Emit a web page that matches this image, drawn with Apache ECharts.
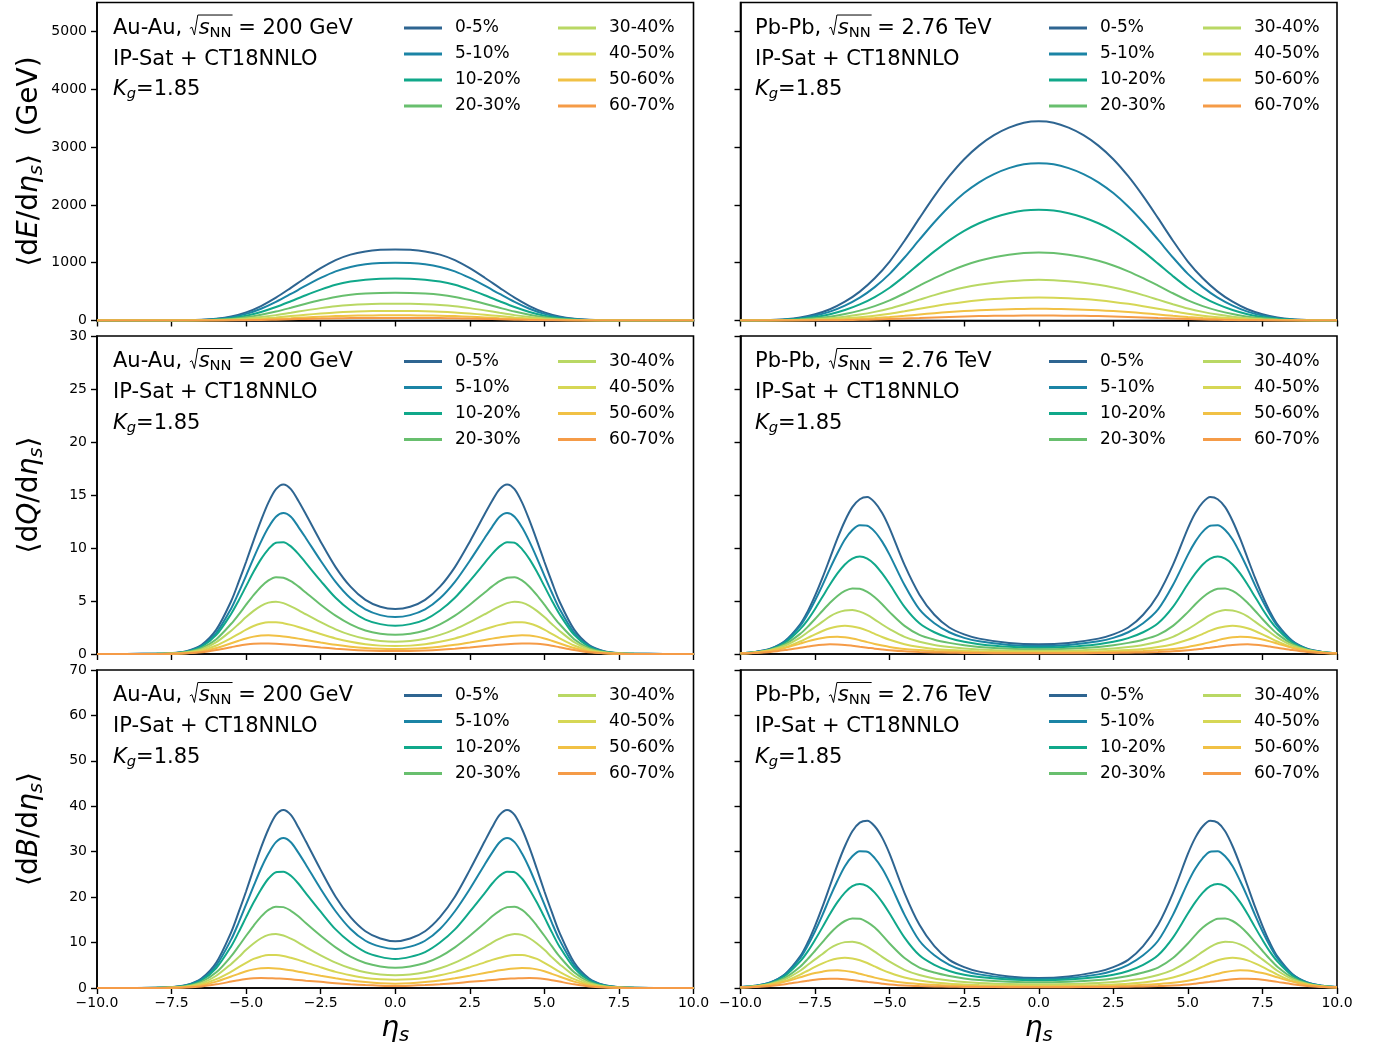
<!DOCTYPE html>
<html>
<head>
<meta charset="utf-8">
<script src="https://cdn.jsdelivr.net/npm/echarts@6/dist/echarts.min.js"></script>
<style>
  html, body { margin: 0; padding: 0; background: #ffffff; }
  #chart { width: 1383px; height: 1053px; }
</style>
</head>
<body>
<div id="chart"></div>
<script>
// Space-time rapidity samples: a regular grid for the energy panels,
// and grids that are denser around the peaks for the charge / baryon panels
const eta = [-10,-9.5,-9,-8.5,-8,-7.5,-7,-6.5,-6,-5.5,-5,-4.5,-4,-3.5,-3,-2.5,-2,-1.5,-1,-0.5,0,
             0.5,1,1.5,2,2.5,3,3.5,4,4.5,5,5.5,6,6.5,7,7.5,8,8.5,9,9.5,10];
const etaAu = [-10,-9,-8,-7.5,-7,-6.5,-6,-5.5,-5.25,-5,-4.75,-4.5,-4.25,-4,-3.75,-3.5,-3.25,-3,-2.5,-2,-1.5,-1,-0.5,0,
               0.5,1,1.5,2,2.5,3,3.25,3.5,3.75,4,4.25,4.5,4.75,5,5.25,5.5,6,6.5,7,7.5,8,9,10];
const etaPb = [-10,-9.5,-9,-8.5,-8,-7.75,-7.5,-7.25,-7,-6.75,-6.5,-6.25,-6,-5.75,-5.5,-5.25,-5,-4.5,-4,-3.5,-3,-2.5,-2,-1,0,
               1,2,2.5,3,3.5,4,4.5,5,5.25,5.5,5.75,6,6.25,6.5,6.75,7,7.25,7.5,7.75,8,8.5,9,9.5,10];

const centralities = ['0-5%','5-10%','10-20%','20-30%','30-40%','40-50%','50-60%','60-70%'];
const lineColors = ['#2e6591','#1b84a5','#10a88a','#68bf6e','#b9d864','#d6d755','#f1c145','#f59b47'];

const xTicks  = [-10,-7.5,-5,-2.5,0,2.5,5,7.5,10];
const yTicksE = [0,1000,2000,3000,4000,5000];
const yTicksQ = [0,5,10,15,20,25,30];
const yTicksB = [0,10,20,30,40,50,60,70];

// <dE/d eta_s> (GeV), Au-Au 200 GeV, one row per centrality class (on eta)
const auAuE = [
  [0,0,0,0,0,1,4,12,31,70,140,250,395,565,740,905,1045,1140,1195,1222,1230,1222,1195,1140,1045,905,740,565,395,250,140,70,31,12,4,1,0,0,0,0,0],
  [0,0,0,0,0,1,3,10,25,57,114,203,321,459,602,736,850,927,972,994,1000,994,972,927,850,736,602,459,321,203,114,57,25,10,3,1,0,0,0,0,0],
  [0,0,0,0,0,1,2,7,18,41,83,148,233,333,437,534,617,673,705,721,725,721,705,673,617,534,437,333,233,148,83,41,18,7,2,1,0,0,0,0,0],
  [0,0,0,0,0,0,2,5,12,27,55,98,154,220,289,353,408,445,466,477,480,477,466,445,408,353,289,220,154,98,55,27,12,5,2,0,0,0,0,0,0],
  [0,0,0,0,0,0,1,3,7,17,33,59,93,133,175,214,247,269,282,288,290,288,282,269,247,214,175,133,93,59,33,17,7,3,1,0,0,0,0,0,0],
  [0,0,0,0,0,0,1,2,4,9,19,34,53,76,99,121,140,153,160,164,165,164,160,153,140,121,99,76,53,34,19,9,4,2,1,0,0,0,0,0,0],
  [0,0,0,0,0,0,0,1,2,5,10,18,29,41,54,66,76,83,87,89,90,89,87,83,76,66,54,41,29,18,10,5,2,1,0,0,0,0,0,0,0],
  [0,0,0,0,0,0,0,0,1,3,5,9,15,21,27,33,39,42,44,45,45,45,44,42,39,33,27,21,15,9,5,3,1,0,0,0,0,0,0,0,0]
];

// <dE/d eta_s> (GeV), Pb-Pb 2.76 TeV (on eta)
const pbPbE = [
  [0,3,9,22,52,108,195,325,500,730,1020,1380,1770,2150,2495,2790,3025,3205,3335,3420,3445,3420,3335,3205,3025,2790,2495,2150,1770,1380,1020,730,500,325,195,108,52,22,9,3,0],
  [0,2,7,17,41,85,154,257,395,577,806,1090,1398,1699,1971,2204,2390,2532,2635,2702,2720,2702,2635,2532,2390,2204,1971,1699,1398,1090,806,577,395,257,154,85,41,17,7,2,0],
  [0,2,5,12,29,60,108,181,278,406,567,767,984,1195,1387,1551,1682,1782,1854,1902,1915,1902,1854,1782,1682,1551,1387,1195,984,767,567,406,278,181,108,60,29,12,5,2,0],
  [0,1,3,8,18,37,66,111,171,249,348,471,604,733,851,951,1032,1093,1137,1167,1176,1167,1137,1093,1032,951,851,733,604,471,348,249,171,111,66,37,18,8,3,1,0],
  [0,1,2,4,11,22,40,66,102,149,208,282,361,439,509,569,617,654,680,698,704,698,680,654,617,569,509,439,361,282,208,149,102,66,40,22,11,4,2,1,0],
  [0,0,1,3,6,12,23,38,58,84,118,159,204,248,288,322,349,370,385,395,398,395,385,370,349,322,288,248,204,159,118,84,58,38,23,12,6,3,1,0,0],
  [0,0,1,1,3,6,11,19,29,43,60,81,104,126,146,163,177,188,195,200,202,200,195,188,177,163,146,126,104,81,60,43,29,19,11,6,3,1,1,0,0],
  [0,0,0,1,1,3,5,8,12,18,26,35,44,54,62,70,76,80,83,86,86,86,83,80,76,70,62,54,44,35,26,18,12,8,5,3,1,1,0,0,0]
];

// <dQ/d eta_s>, Au-Au 200 GeV (on etaAu)
const auAuQ = [
  [0,0.01,0.03,0.08,0.27,0.85,2.3,5.0,6.8,8.7,10.7,12.6,14.3,15.55,16.0,15.55,14.45,13.2,10.6,8.2,6.35,5.1,4.45,4.24,4.45,5.1,6.35,8.2,10.6,13.2,14.45,15.55,16.0,15.55,14.3,12.6,10.7,8.7,6.8,5.0,2.3,0.85,0.27,0.08,0.03,0.01,0],
  [0,0.01,0.02,0.07,0.24,0.76,2.0,4.3,5.8,7.4,9.05,10.6,11.95,12.95,13.3,12.95,12.0,10.95,8.8,6.8,5.25,4.2,3.67,3.49,3.67,4.2,5.25,6.8,8.8,10.95,12.0,12.95,13.3,12.95,11.95,10.6,9.05,7.4,5.8,4.3,2.0,0.76,0.24,0.07,0.02,0.01,0],
  [0,0,0.02,0.06,0.22,0.68,1.8,3.8,5.05,6.4,7.75,8.95,9.9,10.5,10.55,10.15,9.45,8.6,6.9,5.3,4.1,3.25,2.82,2.67,2.82,3.25,4.1,5.3,6.9,8.6,9.45,10.15,10.55,10.5,9.9,8.95,7.75,6.4,5.05,3.8,1.8,0.68,0.22,0.06,0.02,0,0],
  [0,0,0.02,0.05,0.18,0.55,1.4,2.85,3.72,4.65,5.55,6.35,6.95,7.25,7.2,6.88,6.38,5.8,4.65,3.62,2.8,2.22,1.92,1.82,1.92,2.22,2.8,3.62,4.65,5.8,6.38,6.88,7.2,7.25,6.95,6.35,5.55,4.65,3.72,2.85,1.4,0.55,0.18,0.05,0.02,0,0],
  [0,0,0.01,0.04,0.15,0.44,1.12,2.2,2.83,3.48,4.07,4.55,4.85,4.94,4.8,4.5,4.15,3.75,3.0,2.33,1.8,1.43,1.23,1.16,1.23,1.43,1.8,2.33,3.0,3.75,4.15,4.5,4.8,4.94,4.85,4.55,4.07,3.48,2.83,2.2,1.12,0.44,0.15,0.04,0.01,0,0],
  [0,0,0.01,0.03,0.11,0.33,0.8,1.5,1.9,2.3,2.64,2.88,3.0,3.0,2.91,2.75,2.55,2.33,1.88,1.47,1.15,0.92,0.79,0.75,0.79,0.92,1.15,1.47,1.88,2.33,2.55,2.75,2.91,3.0,3.0,2.88,2.64,2.3,1.9,1.5,0.8,0.33,0.11,0.03,0.01,0,0],
  [0,0,0.01,0.02,0.08,0.24,0.56,1.01,1.25,1.47,1.64,1.74,1.76,1.73,1.66,1.56,1.45,1.33,1.09,0.87,0.69,0.56,0.49,0.47,0.49,0.56,0.69,0.87,1.09,1.33,1.45,1.56,1.66,1.73,1.76,1.74,1.64,1.47,1.25,1.01,0.56,0.24,0.08,0.02,0.01,0,0],
  [0,0,0.01,0.02,0.06,0.16,0.37,0.64,0.78,0.89,0.97,1.0,0.99,0.96,0.92,0.87,0.81,0.75,0.62,0.5,0.4,0.33,0.29,0.28,0.29,0.33,0.4,0.5,0.62,0.75,0.81,0.87,0.92,0.96,0.99,1.0,0.97,0.89,0.78,0.64,0.37,0.16,0.06,0.02,0.01,0,0]
];

// <dQ/d eta_s>, Pb-Pb 2.76 TeV (on etaPb)
const pbPbQ = [
  [0.08,0.2,0.5,1.25,2.8,4.0,5.5,7.2,9.05,10.9,12.55,13.85,14.6,14.8,14.3,13.3,11.85,8.4,5.6,3.7,2.5,1.85,1.45,1.04,0.92,1.04,1.45,1.85,2.5,3.7,5.6,8.4,11.85,13.3,14.3,14.8,14.6,13.85,12.55,10.9,9.05,7.2,5.5,4.0,2.8,1.25,0.5,0.2,0.08],
  [0.08,0.2,0.48,1.2,2.65,3.75,5.05,6.5,8.05,9.5,10.8,11.7,12.15,12.1,11.55,10.6,9.35,6.5,4.2,2.9,2.05,1.52,1.2,0.86,0.75,0.86,1.2,1.52,2.05,2.9,4.2,6.5,9.35,10.6,11.55,12.1,12.15,11.7,10.8,9.5,8.05,6.5,5.05,3.75,2.65,1.2,0.48,0.2,0.08],
  [0.07,0.17,0.42,1.08,2.35,3.2,4.25,5.4,6.55,7.6,8.45,9.0,9.2,9.0,8.45,7.6,6.6,4.45,2.9,2.05,1.5,1.15,0.93,0.68,0.6,0.68,0.93,1.15,1.5,2.05,2.9,4.45,6.6,7.6,8.45,9.0,9.2,9.0,8.45,7.6,6.55,5.4,4.25,3.2,2.35,1.08,0.42,0.17,0.07],
  [0.06,0.16,0.4,0.93,1.9,2.56,3.3,4.08,4.83,5.48,5.95,6.18,6.15,5.86,5.36,4.7,3.95,2.65,1.8,1.35,1.05,0.82,0.66,0.5,0.45,0.5,0.66,0.82,1.05,1.35,1.8,2.65,3.95,4.7,5.36,5.86,6.15,6.18,5.95,5.48,4.83,4.08,3.3,2.56,1.9,0.93,0.4,0.16,0.06],
  [0.06,0.15,0.37,0.8,1.55,2.05,2.55,3.05,3.55,3.9,4.1,4.15,4.0,3.68,3.25,2.78,2.35,1.62,1.15,0.85,0.66,0.52,0.43,0.33,0.3,0.33,0.43,0.52,0.66,0.85,1.15,1.62,2.35,2.78,3.25,3.68,4.0,4.15,4.1,3.9,3.55,3.05,2.55,2.05,1.55,0.8,0.37,0.15,0.06],
  [0.05,0.12,0.29,0.62,1.18,1.52,1.86,2.17,2.43,2.6,2.67,2.6,2.45,2.2,1.9,1.6,1.34,0.92,0.65,0.48,0.38,0.31,0.26,0.21,0.2,0.21,0.26,0.31,0.38,0.48,0.65,0.92,1.34,1.6,1.9,2.2,2.45,2.6,2.67,2.6,2.43,2.17,1.86,1.52,1.18,0.62,0.29,0.12,0.05],
  [0.06,0.14,0.3,0.59,0.98,1.19,1.37,1.5,1.6,1.63,1.57,1.46,1.3,1.12,0.95,0.8,0.67,0.48,0.37,0.29,0.23,0.19,0.16,0.13,0.12,0.13,0.16,0.19,0.23,0.29,0.37,0.48,0.67,0.8,0.95,1.12,1.3,1.46,1.57,1.63,1.6,1.5,1.37,1.19,0.98,0.59,0.3,0.14,0.06],
  [0.04,0.09,0.19,0.37,0.6,0.7,0.8,0.87,0.91,0.9,0.86,0.78,0.69,0.6,0.5,0.42,0.35,0.25,0.19,0.15,0.12,0.1,0.09,0.075,0.07,0.075,0.09,0.1,0.12,0.15,0.19,0.25,0.35,0.42,0.5,0.6,0.69,0.78,0.86,0.9,0.91,0.87,0.8,0.7,0.6,0.37,0.19,0.09,0.04]
];

// <dB/d eta_s>, Au-Au 200 GeV (on etaAu)
const auAuB = [
  [0,0.02,0.07,0.2,0.66,2.1,5.6,12.3,16.7,21.3,26.2,30.9,35.0,38.1,39.2,38.1,35.4,32.3,26.0,20.1,15.6,12.5,10.9,10.3,10.9,12.5,15.6,20.1,26.0,32.3,35.4,38.1,39.2,38.1,35.0,30.9,26.2,21.3,16.7,12.3,5.6,2.1,0.66,0.2,0.07,0.02,0],
  [0,0.02,0.05,0.17,0.6,1.9,5.0,10.7,14.4,18.4,22.4,26.3,29.6,32.1,33.0,32.1,29.8,27.2,21.8,16.9,13.0,10.4,9.1,8.6,9.1,10.4,13.0,16.9,21.8,27.2,29.8,32.1,33.0,32.1,29.6,26.3,22.4,18.4,14.4,10.7,5.0,1.9,0.6,0.17,0.05,0.02,0],
  [0,0,0.05,0.15,0.53,1.65,4.4,9.2,12.3,15.6,18.8,21.7,24.1,25.5,25.6,24.7,23.0,20.9,16.8,12.9,10.0,7.9,6.85,6.4,6.85,7.9,10.0,12.9,16.8,20.9,23.0,24.7,25.6,25.5,24.1,21.7,18.8,15.6,12.3,9.2,4.4,1.65,0.53,0.15,0.05,0,0],
  [0,0,0.05,0.12,0.44,1.36,3.45,7.0,9.2,11.5,13.7,15.7,17.2,17.9,17.8,17.0,15.8,14.3,11.5,8.95,6.9,5.5,4.75,4.45,4.75,5.5,6.9,8.95,11.5,14.3,15.8,17.0,17.8,17.9,17.2,15.7,13.7,11.5,9.2,7.0,3.45,1.36,0.44,0.12,0.05,0,0],
  [0,0,0.02,0.1,0.36,1.06,2.7,5.3,6.8,8.4,9.8,10.95,11.7,11.9,11.55,10.85,10.0,9.0,7.2,5.6,4.35,3.45,2.96,2.8,2.96,3.45,4.35,5.6,7.2,9.0,10.0,10.85,11.55,11.9,11.7,10.95,9.8,8.4,6.8,5.3,2.7,1.06,0.36,0.1,0.02,0,0],
  [0,0,0.02,0.07,0.27,0.8,1.94,3.6,4.6,5.55,6.4,6.95,7.25,7.25,7.05,6.65,6.2,5.65,4.55,3.55,2.8,2.2,1.9,1.8,1.9,2.2,2.8,3.55,4.55,5.65,6.2,6.65,7.05,7.25,7.25,6.95,6.4,5.55,4.6,3.6,1.94,0.8,0.27,0.07,0.02,0,0],
  [0,0,0.02,0.05,0.2,0.6,1.4,2.52,3.12,3.67,4.1,4.35,4.38,4.3,4.15,3.9,3.6,3.3,2.7,2.15,1.65,1.3,1.05,0.95,1.05,1.3,1.65,2.15,2.7,3.3,3.6,3.9,4.15,4.3,4.38,4.35,4.1,3.67,3.12,2.52,1.4,0.6,0.2,0.05,0.02,0,0],
  [0,0,0.02,0.04,0.13,0.35,0.81,1.41,1.72,1.96,2.13,2.2,2.17,2.11,2.02,1.9,1.77,1.62,1.35,1.05,0.82,0.65,0.52,0.45,0.52,0.65,0.82,1.05,1.35,1.62,1.77,1.9,2.02,2.11,2.17,2.2,2.13,1.96,1.72,1.41,0.81,0.35,0.13,0.04,0.02,0,0]
];

// <dB/d eta_s>, Pb-Pb 2.76 TeV (on etaPb)
const pbPbB = [
  [0.2,0.5,1.25,3.1,6.95,9.95,13.7,17.9,22.5,27.1,31.2,34.5,36.4,36.8,35.6,33.1,29.5,20.9,13.9,9.2,6.2,4.6,3.6,2.55,2.2,2.55,3.6,4.6,6.2,9.2,13.9,20.9,29.5,33.1,35.6,36.8,36.4,34.5,31.2,27.1,22.5,17.9,13.7,9.95,6.95,3.1,1.25,0.5,0.2],
  [0.2,0.5,1.2,3.0,6.6,9.3,12.5,16.1,20.0,23.6,26.8,29.0,30.1,30.0,28.6,26.3,23.2,16.1,10.4,7.2,5.1,3.8,3.0,2.2,2.0,2.2,3.0,3.8,5.1,7.2,10.4,16.1,23.2,26.3,28.6,30.0,30.1,29.0,26.8,23.6,20.0,16.1,12.5,9.3,6.6,3.0,1.2,0.5,0.2],
  [0.17,0.42,1.05,2.7,5.85,8.0,10.6,13.4,16.3,18.9,21.0,22.4,22.9,22.4,21.0,18.9,16.4,11.1,7.2,5.1,3.75,2.9,2.4,1.85,1.7,1.85,2.4,2.9,3.75,5.1,7.2,11.1,16.4,18.9,21.0,22.4,22.9,22.4,21.0,18.9,16.3,13.4,10.6,8.0,5.85,2.7,1.05,0.42,0.17],
  [0.15,0.4,1.0,2.3,4.7,6.35,8.2,10.1,12.0,13.6,14.75,15.3,15.25,14.5,13.3,11.65,9.8,6.6,4.5,3.4,2.65,2.1,1.75,1.4,1.25,1.4,1.75,2.1,2.65,3.4,4.5,6.6,9.8,11.65,13.3,14.5,15.25,15.3,14.75,13.6,12.0,10.1,8.2,6.35,4.7,2.3,1.0,0.4,0.15],
  [0.15,0.37,0.91,1.97,3.8,5.05,6.3,7.5,8.75,9.6,10.1,10.2,9.85,9.05,8.0,6.85,5.8,4.0,2.85,2.1,1.65,1.3,1.1,0.87,0.8,0.87,1.1,1.3,1.65,2.1,2.85,4.0,5.8,6.85,8.0,9.05,9.85,10.2,10.1,9.6,8.75,7.5,6.3,5.05,3.8,1.97,0.91,0.37,0.15],
  [0.12,0.3,0.73,1.55,2.95,3.8,4.65,5.42,6.08,6.5,6.68,6.5,6.1,5.5,4.75,4.0,3.35,2.3,1.63,1.2,0.95,0.78,0.65,0.53,0.5,0.53,0.65,0.78,0.95,1.2,1.63,2.3,3.35,4.0,4.75,5.5,6.1,6.5,6.68,6.5,6.08,5.42,4.65,3.8,2.95,1.55,0.73,0.3,0.12],
  [0.14,0.34,0.72,1.42,2.35,2.86,3.29,3.6,3.84,3.9,3.77,3.5,3.12,2.7,2.28,1.92,1.6,1.15,0.89,0.7,0.56,0.46,0.39,0.32,0.3,0.32,0.39,0.46,0.56,0.7,0.89,1.15,1.6,1.92,2.28,2.7,3.12,3.5,3.77,3.9,3.84,3.6,3.29,2.86,2.35,1.42,0.72,0.34,0.14],
  [0.09,0.2,0.43,0.83,1.35,1.58,1.8,1.96,2.05,2.03,1.94,1.76,1.55,1.35,1.13,0.95,0.79,0.56,0.43,0.34,0.28,0.23,0.21,0.18,0.17,0.18,0.21,0.23,0.28,0.34,0.43,0.56,0.79,0.95,1.13,1.35,1.55,1.76,1.94,2.03,2.05,1.96,1.8,1.58,1.35,0.83,0.43,0.2,0.09]
];

const FONT = '"DejaVu Sans"';

// Panel geometry (pixels)
const colLeft = [97, 740.5];
const colWidth = 596.5;
const rowTop = [2.5, 336, 670];
const rowHeight = 318;

const panels = [
  { xs: eta,   data: auAuE, row: 0, col: 0, max: 5500, ticks: yTicksE },
  { xs: eta,   data: pbPbE, row: 0, col: 1, max: 5500, ticks: yTicksE },
  { xs: etaAu, data: auAuQ, row: 1, col: 0, max: 30,   ticks: yTicksQ },
  { xs: etaPb, data: pbPbQ, row: 1, col: 1, max: 30,   ticks: yTicksQ },
  { xs: etaAu, data: auAuB, row: 2, col: 0, max: 70,   ticks: yTicksB },
  { xs: etaPb, data: pbPbB, row: 2, col: 1, max: 70,   ticks: yTicksB }
];

const fmtX = v => v.toFixed(1).replace('-', '\u2212');

const grids = [], xAxes = [], yAxes = [], series = [], legends = [];

panels.forEach((p, i) => {
  grids.push({
    left: colLeft[p.col], top: rowTop[p.row], width: colWidth, height: rowHeight,
    show: true, borderColor: '#000', borderWidth: 1.6, backgroundColor: 'rgba(0,0,0,0)'
  });
  xAxes.push({
    type: 'value', gridIndex: i, min: -10, max: 10, interval: 2.5,
    axisLine: { show: true, onZero: false, lineStyle: { color: '#000', width: 1.6 } },
    axisTick: { show: true, length: 6, lineStyle: { color: '#000', width: 1.4 }, customValues: xTicks },
    axisLabel: { show: p.row === 2, customValues: xTicks, formatter: fmtX, color: '#000',
                 fontSize: 14, fontFamily: FONT, margin: 8 },
    splitLine: { show: false }
  });
  yAxes.push({
    type: 'value', gridIndex: i, min: 0, max: p.max,
    axisLine: { show: true, onZero: false, lineStyle: { color: '#000', width: 1.6 } },
    axisTick: { show: true, length: 6, lineStyle: { color: '#000', width: 1.4 }, customValues: p.ticks },
    axisLabel: { show: p.col === 0, customValues: p.ticks, formatter: v => String(v), color: '#000',
                 fontSize: 14, fontFamily: FONT, margin: 10 },
    splitLine: { show: false }
  });
  p.data.forEach((vals, k) => {
    series.push({
      type: 'line', name: centralities[k], xAxisIndex: i, yAxisIndex: i,
      data: p.xs.map((x, j) => [x, vals[j]]),
      showSymbol: false, smooth: 0.3, silent: true,
      lineStyle: { width: 2, color: lineColors[k] },
      itemStyle: { color: lineColors[k] },
      z: 2 + k
    });
  });
  // two-column legend inside each panel
  const lx = p.col === 0 ? [404, 558] : [1049, 1203];
  const ly = rowTop[p.row] + 15.5;
  [centralities.slice(0, 4), centralities.slice(4)].forEach((names, c) => {
    legends.push({
      data: names, orient: 'vertical', left: lx[c], top: ly, padding: 0,
      itemWidth: 38, itemHeight: 3, itemGap: 6, icon: 'rect', selectedMode: false,
      textStyle: { fontSize: 17, fontFamily: FONT, color: '#000', lineHeight: 20, padding: [0, 0, 0, 8] }
    });
  });
});

// ---- text with italic letters, subscripts and the square-root sign ----
const mctx = document.createElement('canvas').getContext('2d');
const fontStr = (size, it) => (it ? 'italic ' : '') + size + 'px ' + FONT;
function textWidth(t, size, it) { mctx.font = fontStr(size, it); return mctx.measureText(t).width; }
function baseOff(size) {
  mctx.font = fontStr(size, false); mctx.textBaseline = 'middle';
  return mctx.measureText('H').actualBoundingBoxDescent;
}
// parts: [text, size, italic, baselineShift]; local y = 0 is the baseline
function runOf(parts) {
  let x = 0; const kids = [], spans = [];
  parts.forEach(([t, s, it, dy]) => {
    const w = textWidth(t, s, it);
    kids.push({
      type: 'text', x: x, y: (dy || 0) - baseOff(s), silent: true,
      style: { text: t, font: fontStr(s, it), fill: '#000', align: 'left', verticalAlign: 'middle' }
    });
    spans.push([x, x + w]); x += w;
  });
  return { kids, spans, width: x };
}

const S = 21, SUB = 14.7;
function energyLine(system, energy, x, baseline) {
  const r = runOf([[system + ', ', S, false]]);
  const r0 = r.width + 1;
  const sx = r0 + 0.42 * S;
  const tail = runOf([['s', S, true], ['NN', SUB, false, 3], [' = ' + energy, S, false]]);
  const kids = r.kids.slice();
  tail.kids.forEach(k => { k.x += sx; kids.push(k); });
  const barEnd = sx + tail.spans[1][1] + 1;
  kids.push({
    type: 'polyline', silent: true,
    shape: { points: [[r0, -0.24 * S], [r0 + 0.1 * S, -0.3 * S], [r0 + 0.22 * S, 0.07 * S],
                      [r0 + 0.38 * S, -0.88 * S], [barEnd, -0.88 * S]] },
    style: { stroke: '#000', lineWidth: 1, fill: null }
  });
  return { type: 'group', x: x, y: baseline, children: kids };
}
function plainLine(parts, x, baseline) {
  return { type: 'group', x: x, y: baseline, children: runOf(parts).kids };
}
function centeredGroup(parts, cx, cy, rotation) {
  const r = runOf(parts);
  r.kids.forEach(k => { k.x -= r.width / 2; });
  return { type: 'group', x: cx, y: cy, rotation: rotation || 0, children: r.kids };
}

const graphics = [];
const systems = [['Au-Au', '200 GeV'], ['Pb-Pb', '2.76 TeV']];
[0, 1, 2].forEach(row => {
  [0, 1].forEach(col => {
    const tx = col === 0 ? 113 : 755;
    const b0 = rowTop[row] + 31;
    graphics.push(energyLine(systems[col][0], systems[col][1], tx, b0));
    graphics.push(plainLine([['IP-Sat + CT18NNLO', S, false]], tx, b0 + 31));
    graphics.push(plainLine([['K', S, true], ['g', SUB, true, 3], ['=1.85', S, false]], tx, b0 + 61.5));
  });
});

// y-axis titles
const L = 28, LS = 19.6;
const yTitles = [
  [['\u27E8', L, false], ['d', L, false], ['E', L, true], ['/', L, false], ['d', L, false],
   ['\u03B7', L, true], ['s', LS, true, 5], ['\u27E9', L, false], ['  (GeV)', L, false]],
  [['\u27E8', L, false], ['d', L, false], ['Q', L, true], ['/', L, false], ['d', L, false],
   ['\u03B7', L, true], ['s', LS, true, 5], ['\u27E9', L, false]],
  [['\u27E8', L, false], ['d', L, false], ['B', L, true], ['/', L, false], ['d', L, false],
   ['\u03B7', L, true], ['s', LS, true, 5], ['\u27E9', L, false]]
];
yTitles.forEach((parts, row) => {
  graphics.push(centeredGroup(parts, 37, rowTop[row] + rowHeight / 2, Math.PI / 2));
});
// x-axis titles
[0, 1].forEach(col => {
  graphics.push(centeredGroup([['\u03B7', L, true], ['s', LS, true, 5]],
                              colLeft[col] + colWidth / 2, 1036, 0));
});

const chart = echarts.init(document.getElementById('chart'), null, { renderer: 'canvas' });
chart.setOption({
  backgroundColor: '#ffffff',
  animation: false,
  grid: grids,
  xAxis: xAxes,
  yAxis: yAxes,
  legend: legends,
  series: series,
  graphic: { elements: graphics }
});
</script>
</body>
</html>
